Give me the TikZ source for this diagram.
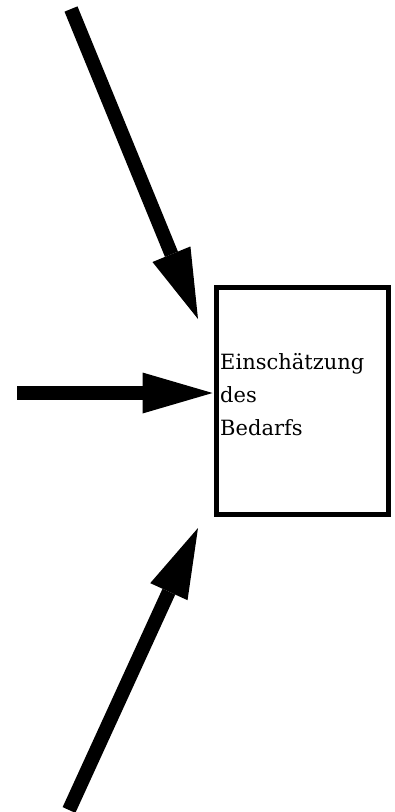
\documentclass[tikz,border=0pt]{standalone}
\usepackage{fontspec}
\setmainfont{DejaVu Serif}
\usetikzlibrary{arrows.meta}
\begin{document}
\begin{tikzpicture}[x=1pt,y=-1pt,
  bigarrow/.style={line width=14pt,line cap=butt,
    -{Triangle[length=70pt,width=41pt,line width=0pt]}},
  boxstyle/.style={draw,line width=5pt,rectangle,inner sep=0pt,
    minimum width=171.5pt,minimum height=226.5pt},
  labelstyle/.style={inner sep=0pt,align=left,anchor=north west,
    font=\fontsize{21}{33}\selectfont}]
\useasboundingbox (0,0) rectangle (394,812);
\node[boxstyle] (box) at (302.25,400.75) {};
\node[labelstyle] (lbl) at (220,353.5) {Einschätzung\\des\\Bedarfs};
\coordinate (s1) at (71,9);
\coordinate (t1) at (198,319);
\coordinate (s2) at (17,393);
\coordinate (t2) at (box.west |- s2);
\coordinate (s3) at (69,810);
\coordinate (t3) at (198,528);
\draw[bigarrow] (s1) -- (t1);
\draw[bigarrow] (s2) -- ([xshift=-1.5pt]t2);
\draw[bigarrow] (s3) -- (t3);
\end{tikzpicture}
\end{document}
